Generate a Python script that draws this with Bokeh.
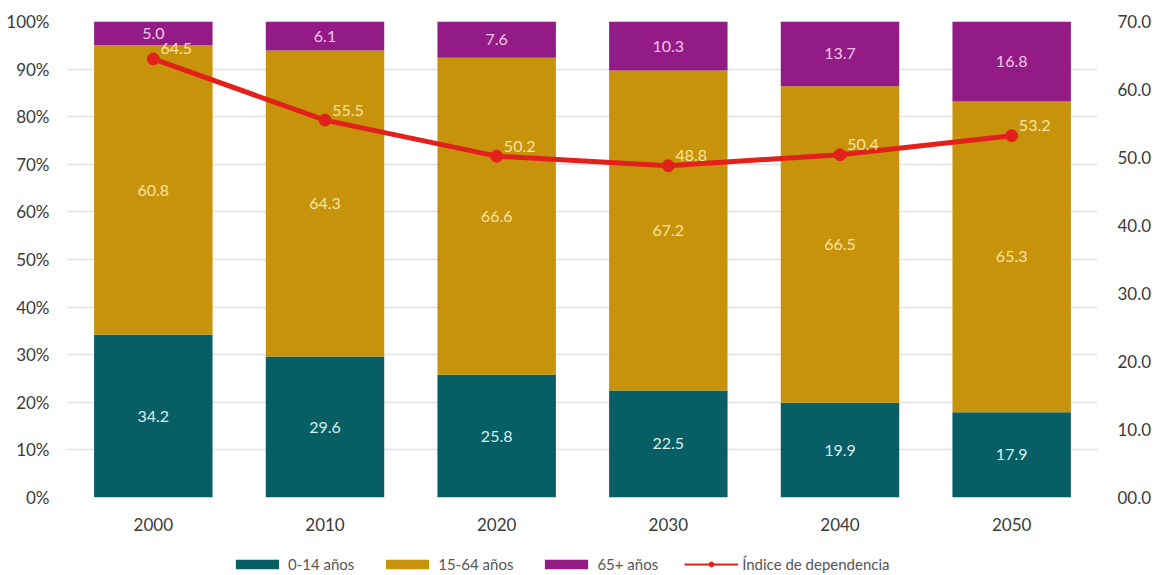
from bokeh.plotting import figure
from bokeh.layouts import column
from bokeh.models import (ColumnDataSource, FactorRange, Range1d, LinearAxis,
                          FixedTicker, Legend, LegendItem)
from bokeh.core.properties import value
from bokeh.embed import file_html
from bokeh.resources import INLINE

years = ["2000", "2010", "2020", "2030", "2040", "2050"]
age_0_14 = [34.2, 29.6, 25.8, 22.5, 19.9, 17.9]
age_15_64 = [60.8, 64.3, 66.6, 67.2, 66.5, 65.3]
age_65 = [5.0, 6.1, 7.6, 10.3, 13.7, 16.8]
dependency = [64.5, 55.5, 50.2, 48.8, 50.4, 53.2]

left_ticks = [0, 10, 20, 30, 40, 50, 60, 70, 80, 90, 100]
left_tick_labels = ["0%", "10%", "20%", "30%", "40%", "50%", "60%", "70%", "80%", "90%", "100%"]
right_ticks = [0, 10, 20, 30, 40, 50, 60, 70]
right_tick_labels = ["00.0", "10.0", "20.0", "30.0", "40.0", "50.0", "60.0", "70.0"]

series_names = ["0-14 años", "15-64 años", "65+ años"]
line_name = "Índice de dependencia"

C_TEAL = "#075e65"
C_GOLD = "#c7930a"
C_PURPLE = "#931b85"
C_RED = "#e3211c"
FONT = "Lato"

src = ColumnDataSource(dict(
    year=years,
    a=age_0_14, b=age_15_64, c=age_65,
    ya=[v / 2 for v in age_0_14],
    yb=[a + b / 2 for a, b in zip(age_0_14, age_15_64)],
    yc=[a + b + c / 2 for a, b, c in zip(age_0_14, age_15_64, age_65)],
    ta=[f"{v:.1f}" for v in age_0_14],
    tb=[f"{v:.1f}" for v in age_15_64],
    tc=[f"{v:.1f}" for v in age_65],
    dep=dependency,
    td=[f"{v:.1f}" for v in dependency],
))

p = figure(x_range=FactorRange(*years), y_range=Range1d(0, 100),
           frame_width=1030, frame_height=476, output_backend="svg", toolbar_location=None,
           min_border_left=67, min_border_right=44, min_border_top=21,
           min_border_bottom=0)
p.outline_line_color = None
p.extra_y_ranges = {"dep": Range1d(0, 70)}

bars = p.vbar_stack(["a", "b", "c"], x="year", width=0.69,
                    color=[C_TEAL, C_GOLD, C_PURPLE], line_color=None, source=src)

lr = p.line(x="year", y="dep", y_range_name="dep", source=src,
            line_color=C_RED, line_width=5)
cr = p.scatter(x="year", y="dep", y_range_name="dep", source=src,
               size=12, fill_color=C_RED, line_color=C_RED)

common = dict(source=src, text_align="center", text_baseline="middle",
              text_font=value(FONT), text_font_size="16px")
p.text(x="year", y="ya", text="ta", text_color="#d6efef", **common)
p.text(x="year", y="yb", text="tb", text_color="#f7e3a3", **common)
p.text(x="year", y="yc", text="tc", text_color="#f4c6ec", **common)
p.text(x="year", y="dep", text="td", y_range_name="dep", x_offset=23, y_offset=-10,
       text_color="#f7e3a3", **common)

# left axis
ya = p.yaxis[0]
ya.ticker = FixedTicker(ticks=left_ticks)
ya.major_label_overrides = {t: l for t, l in zip(left_ticks, left_tick_labels)}

# right axis
ra = LinearAxis(y_range_name="dep", ticker=FixedTicker(ticks=right_ticks))
ra.major_label_overrides = {t: l for t, l in zip(right_ticks, right_tick_labels)}
p.add_layout(ra, "right")

for ax in [ya, ra, p.xaxis[0]]:
    ax.axis_line_color = None
    ax.major_tick_line_color = None
    ax.minor_tick_line_color = None
    ax.major_label_text_font = FONT
    ax.major_label_text_font_size = "17px"
    ax.major_label_text_color = "#3a3a3a"
ya.major_label_standoff = 12
ra.major_label_standoff = 14
p.xaxis[0].major_label_standoff = 14

p.xgrid.grid_line_color = None
p.ygrid.ticker = FixedTicker(ticks=left_ticks)
p.ygrid.grid_line_color = "#e2e2e2"
p.ygrid.grid_line_width = 1.5

# legend in its own strip below the chart (dummy renderers hold no visible data)
lg = figure(x_range=Range1d(0, 1), y_range=Range1d(0, 1),
            frame_width=1030, frame_height=40, output_backend="svg", toolbar_location=None,
            min_border_left=67, min_border_right=44, min_border_top=0, min_border_bottom=0)
lg.axis.visible = False
lg.grid.grid_line_color = None
lg.outline_line_color = None
dummy = ColumnDataSource(dict(x=[float("nan")], y=[float("nan")]))
g0 = lg.rect(x="x", y="y", width=1, height=1, fill_color=C_TEAL, line_color=None, source=dummy)
g1 = lg.rect(x="x", y="y", width=1, height=1, fill_color=C_GOLD, line_color=None, source=dummy)
g2 = lg.rect(x="x", y="y", width=1, height=1, fill_color=C_PURPLE, line_color=None, source=dummy)
gl = lg.line(x="x", y="y", line_color=C_RED, line_width=2, source=dummy)
gc = lg.scatter(x="x", y="y", size=10, fill_color=C_RED, line_color=C_RED, source=dummy)

legend = Legend(items=[
    LegendItem(label=series_names[0], renderers=[g0]),
    LegendItem(label=series_names[1], renderers=[g1]),
    LegendItem(label=series_names[2], renderers=[g2]),
    LegendItem(label=line_name, renderers=[gl, gc]),
], orientation="horizontal", location=(163, 0))
legend.border_line_color = None
legend.background_fill_alpha = 0
legend.label_text_font = FONT
legend.label_text_font_size = "15px"
legend.label_text_color = "#555555"
legend.glyph_width = 54
legend.glyph_height = 12
legend.spacing = 26
legend.padding = 0
legend.margin = 0
legend.label_standoff = 4
lg.add_layout(legend, "center")

layout = column(p, lg, spacing=0)
open("out.html", "w").write(file_html(layout, INLINE))
